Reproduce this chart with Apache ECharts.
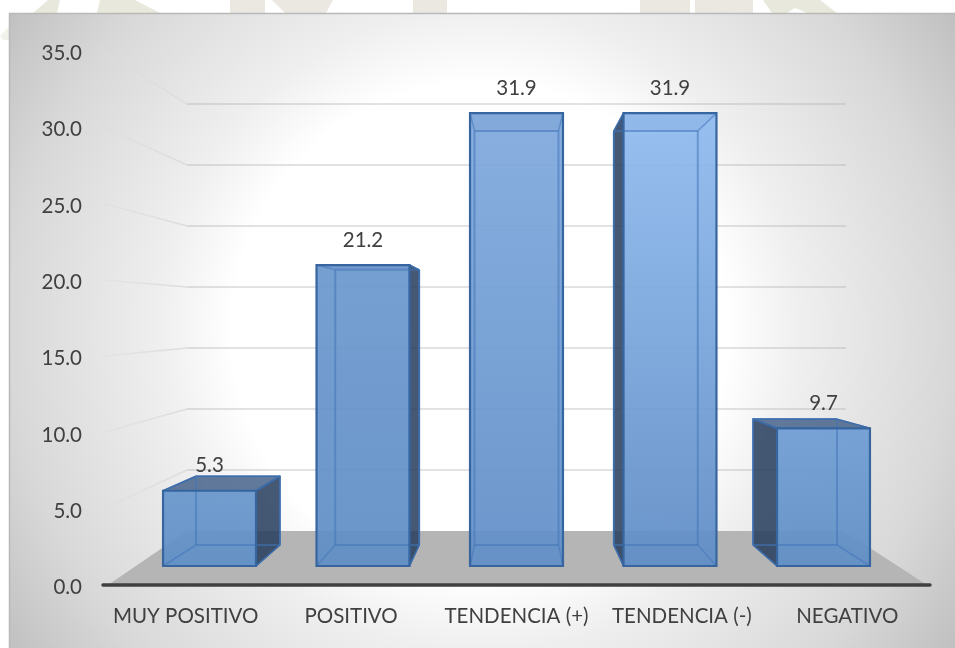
<!DOCTYPE html>
<html><head><meta charset="utf-8">
<style>html,body{margin:0;padding:0;background:#fff}#c{width:955px;height:648px}</style>
<script src="https://cdn.jsdelivr.net/npm/echarts@6/dist/echarts.min.js"></script>
</head><body><div id="c"></div>
<script>
const categories = ['MUY POSITIVO','POSITIVO','TENDENCIA (+)','TENDENCIA (-)','NEGATIVO'];
const values = [5.3,21.2,31.9,31.9,9.7];
const gridTicks = [0,5,10,15,20,25,30,35];
const topColors = ['#6896cc','#6c98ce','#7fa9dd','#90bbef','#6f9dd5'];
const bottomColors = ['#5f8fc7','#5f8ec6','#618fc8','#5f8dc6','#5f8ec6'];

const FONT = 'Lato, Carlito, sans-serif';
const TXT = '#404040';
// Projection of the axis plane on to the bar front and back planes
const FRONT = {drop:19, scale:0.9305, x:0.928, half:0.281};
const BACK  = {drop:40, scale:0.8506, x:0.842, half:0.254};
const WALL  = {drop:54, scale:0.7995, x:0.7965};
const chart = echarts.init(document.getElementById('c'),null,{renderer:'canvas'});

function project(api,i,v){
  const p = api.coord([i,v]), b = api.coord([i,0]);
  return {x:p[0], h:b[1]-p[1], base:b[1]};
}
function renderBar(params,api){
  const i = api.value(0), v = api.value(1);
  const cs = params.coordSys, mid = cs.x+cs.width/2;
  const P = project(api,i,v), band = api.size([1,0])[0];
  const fc = mid+(P.x-mid)*FRONT.x, bc = mid+(P.x-mid)*BACK.x;
  const fh = band*FRONT.half, bh = band*BACK.half;
  const fl=fc-fh, fr=fc+fh, bl=bc-bh, br=bc+bh;
  const fb=P.base-FRONT.drop, ft=fb-P.h*FRONT.scale;
  const bb=P.base-BACK.drop, bt=bb-P.h*BACK.scale;
  const edge='#36659f', inner='rgba(66,116,184,0.55)';
  const dark='rgba(38,62,94,0.86)';
  const poly=(pts,fill,stroke,w)=>({type:'polygon',shape:{points:pts},style:{fill:fill,stroke:stroke||null,lineWidth:w||0,lineJoin:'round'}});
  const line=(a,b,c,stroke,w)=>({type:'line',shape:{x1:a,y1:b,x2:c[0],y2:c[1]},style:{stroke:stroke,lineWidth:w,fill:null}});
  const grad=new echarts.graphic.LinearGradient(0,0,0,1,[{offset:0,color:topColors[i]},{offset:1,color:bottomColors[i]}]);
  const ch=[];
  // dark faces are only seen where they stand outside the front face
  if(br>fr) ch.push(poly([[fr,ft],[br,bt],[br,bb],[fr,fb]],dark,edge,1.5));
  if(bl<fl) ch.push(poly([[fl,ft],[bl,bt],[bl,bb],[fl,fb]],dark,edge,1.5));
  if(bt<ft) ch.push(poly([[fl,ft],[bl,bt],[br,bt],[fr,ft]],'rgba(64,94,134,0.82)',edge,1.5));
  ch.push({type:'rect',shape:{x:fl,y:ft,width:fr-fl,height:fb-ft},style:{fill:grad,opacity:0.93}});
  if(bt>ft) ch.push(poly([[fl,ft],[fr,ft],[br,bt],[bl,bt]],'rgba(40,80,140,0.05)'));
  // back edges seen through the translucent front
  ch.push(line(bl,bt,[br,bt],inner,2), line(bl,bb,[br,bb],inner,2),
          line(bl,bt,[bl,bb],inner,2), line(br,bt,[br,bb],inner,2),
          line(fl,ft,[bl,bt],inner,1.5), line(fr,ft,[br,bt],inner,1.5),
          line(fl,fb,[bl,bb],inner,1.5), line(fr,fb,[br,bb],inner,1.5));
  ch.push({type:'rect',shape:{x:fl,y:ft,width:fr-fl,height:fb-ft},style:{fill:null,stroke:edge,lineWidth:2.2}});
  const labelGap = bt<ft ? 10.5 + (ft-bt>12?0:5.5) : 24.5;
  ch.push({type:'text',z2:50,style:{text:v.toFixed(1),x:fc,y:Math.min(ft,bt)-labelGap,align:'center',verticalAlign:'middle',fill:TXT,font:'20.5px '+FONT}});
  return {type:'group',children:ch};
}
function renderWall(params,api){
  const v = api.value(0), cs = params.coordSys;
  const P = project(api,0,v), mid = cs.x+cs.width/2;
  const l = mid-cs.width/2*WALL.x, r = mid+cs.width/2*WALL.x;
  const y = P.base-WALL.drop-P.h*WALL.scale;
  const yF = P.base-P.h;
  const ch=[];
  if(v===0){
    ch.push({type:'polygon',shape:{points:[[cs.x+5,P.base],[l,y],[r-2,y],[cs.x+cs.width-3,P.base]]},style:{fill:'#b5b5b5'}});
  } else {
    ch.push({type:'line',shape:{x1:l,y1:y,x2:r,y2:y},style:{stroke:'rgba(170,170,170,0.45)',lineWidth:1.6}});
    ch.push({type:'line',shape:{x1:cs.x,y1:yF,x2:l,y2:y},style:{stroke:new echarts.graphic.LinearGradient(0,0,1,0,[{offset:0,color:'rgba(220,220,220,0.35)'},{offset:1,color:'#dcdcdc'}]),lineWidth:1.6}});
  }
  return {type:'group',children:ch};
}
const wm=(pts,c)=>({type:'polygon',silent:true,z:-3,shape:{points:pts},style:{fill:c}});
const OL='#e8e9dc', BE='#eae8e1';
chart.setOption({
  animation:false,
  backgroundColor:'#ffffff',
  graphic:[
    wm([[33,13],[48,0],[60,0],[57,13]],OL), wm([[97,13],[100,0],[135,0],[160,13]],OL),
    wm([[0,36],[9,27],[9,40],[3,40]],'#f1f2ea'),
    wm([[230,0],[265,0],[265,13],[230,13]],BE), wm([[272,0],[333,0],[326,13],[285,13]],BE),
    wm([[413,0],[447,0],[447,13],[413,13]],BE),
    wm([[640,0],[690,0],[690,13],[640,13]],BE), wm([[695,0],[753,0],[753,13],[695,13]],BE),
    wm([[763,0],[820,0],[837,13],[807,13],[795,8],[787,13],[772,13]],OL),
    {type:'rect',silent:true,z:-2,shape:{x:9.5,y:13.5,width:960,height:650},
     style:{stroke:'#b9b9b9',lineWidth:1.5,fill:new echarts.graphic.RadialGradient(480,330,575,[
       {offset:0,color:'#ffffff'},{offset:0.43,color:'#ffffff'},{offset:0.556,color:'#efefef'},
       {offset:0.817,color:'#d8d8d8'},{offset:1,color:'#bfbfbf'}],true)}}
  ],
  grid:{left:103,right:25,top:51,bottom:63,containLabel:false},
  xAxis:{type:'category',data:categories,z:2,
    axisLine:{lineStyle:{color:'#404040',width:3.5,cap:'round'}},axisTick:{show:false},
    axisLabel:{color:TXT,fontFamily:FONT,fontSize:20.5,margin:21,interval:0}},
  yAxis:{type:'value',min:0,max:35,interval:5,
    axisLine:{show:false},axisTick:{show:false},splitLine:{show:false},
    axisLabel:{color:TXT,fontFamily:FONT,fontSize:20.5,margin:21,verticalAlign:'top',lineHeight:5,formatter:v=>v.toFixed(1)}},
  series:[
    {type:'custom',coordinateSystem:'cartesian2d',z:1,encode:{y:0},data:gridTicks.map(v=>[v]),
     renderItem:renderWall,clip:false,silent:true},
    {type:'custom',coordinateSystem:'cartesian2d',z:3,encode:{x:0,y:1},data:values.map((v,i)=>[i,v]),
     renderItem:renderBar,clip:false,silent:true}
  ]
});
</script></body></html>
